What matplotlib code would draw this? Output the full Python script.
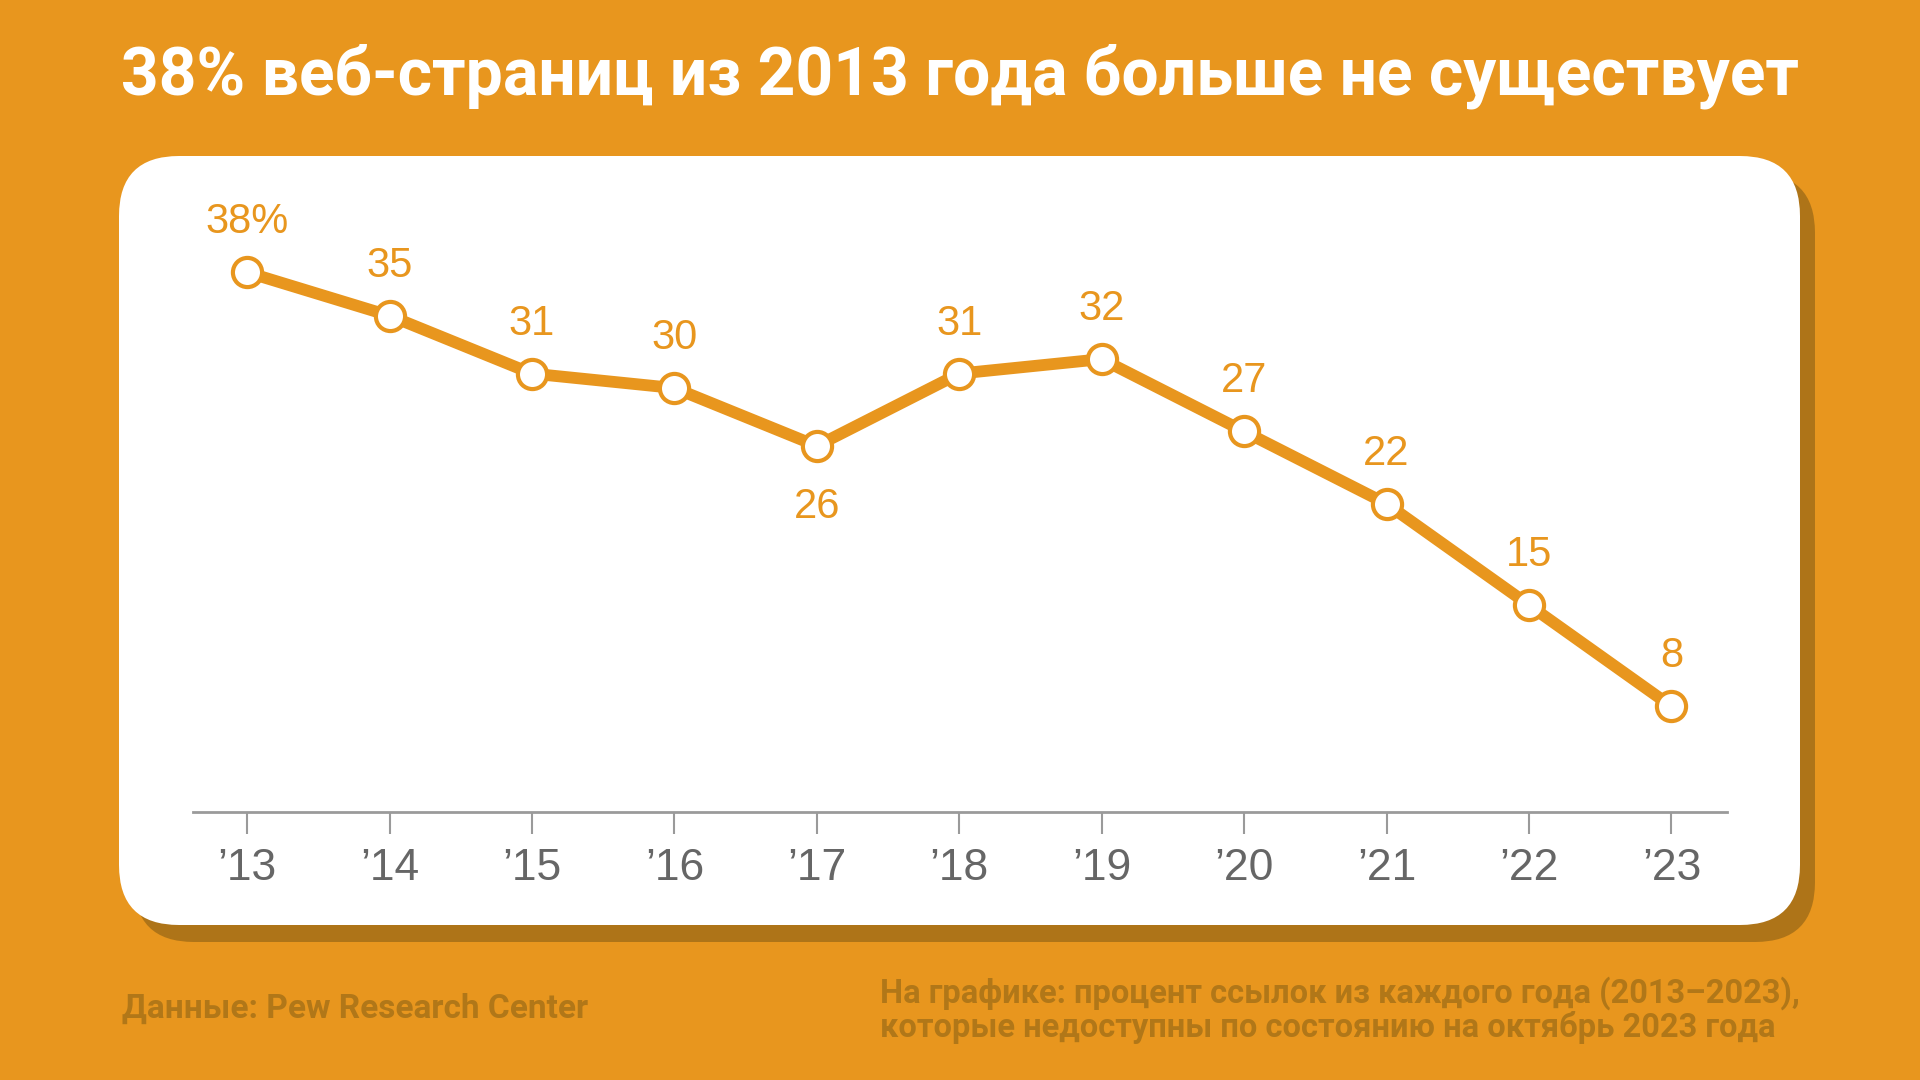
import matplotlib.pyplot as plt
from matplotlib.patches import FancyBboxPatch

years = [2013, 2014, 2015, 2016, 2017, 2018, 2019, 2020, 2021, 2022, 2023]
share = [38, 35, 31, 30, 26, 31, 32, 27, 22, 15, 8]
tick_labels = ["\u201913", "\u201914", "\u201915", "\u201916", "\u201917", "\u201918",
               "\u201919", "\u201920", "\u201921", "\u201922", "\u201923"]
point_labels = ["38%", "35", "31", "30", "26", "31", "32", "27", "22", "15", "8"]

title = "38% веб-страниц из 2013 года больше не существует"
source = "Данные: Pew Research Center"
note = ("На графике: процент ссылок из каждого года (2013–2023),\n"
        "которые недоступны по состоянию на октябрь 2023 года")

orange = "#E8961E"
shadow = "#AE7418"
dark_text = "#B17718"
plt.rcParams["font.family"] = ["Roboto", "DejaVu Sans"]

fig = plt.figure(figsize=(19.2, 10.8), dpi=100, facecolor=orange)

# background layer in pixel coordinates
bg = fig.add_axes([0, 0, 1, 1])
bg.set_xlim(0, 1920)
bg.set_ylim(1080, 0)
bg.axis("off")
bg.add_patch(FancyBboxPatch((134, 173), 1681, 769, boxstyle="round,pad=0,rounding_size=60",
                            fc=shadow, ec="none"))
bg.add_patch(FancyBboxPatch((119, 156), 1681, 769, boxstyle="round,pad=0,rounding_size=60",
                            fc="white", ec="none"))
bg.text(960, 76, title, color="white", fontsize=47.5, fontweight="bold", ha="center", va="center")
bg.text(122, 1009, source, color=dark_text, fontsize=24, fontweight="bold", ha="left", va="center")
bg.text(1800, 1010, note, color=dark_text, fontsize=23.5, fontweight="bold", ha="right", va="center",
        multialignment="left", linespacing=1.05)

# chart
ax = fig.add_axes([193 / 1920, 1 - 812 / 1080, 1534 / 1920, 642 / 1080])
ax.patch.set_alpha(0)
ax.plot(years, share, color=orange, lw=8.5, marker="o", ms=21, mfc="white", mec=orange, mew=3,
        solid_joinstyle="round", zorder=3)
ax.set_xlim(2012.62, 2023.39)
ax.set_ylim(0.7, 45.07)

# labels above the line, except at a local dip
for i, (x, y, s) in enumerate(zip(years, share, point_labels)):
    dip = 0 < i < len(share) - 1 and y < share[i - 1] and y < share[i + 1]
    dy = -44 if dip else 36
    ax.annotate(s, (x, y), xytext=(0, dy), textcoords="offset points", ha="center", va="center",
                fontsize=30, color=orange, family="Liberation Sans")

for side in ["top", "right", "left"]:
    ax.spines[side].set_visible(False)
ax.spines["bottom"].set_color("#9A9A9A")
ax.spines["bottom"].set_linewidth(2)
ax.set_yticks([])
ax.set_xticks(years)
ax.set_xticklabels(tick_labels, fontsize=32, color="#666666", family="Liberation Sans")
ax.tick_params(axis="x", length=16, width=1.5, color="#9A9A9A", pad=10)

plt.savefig("out.png", dpi=100, facecolor=orange)
